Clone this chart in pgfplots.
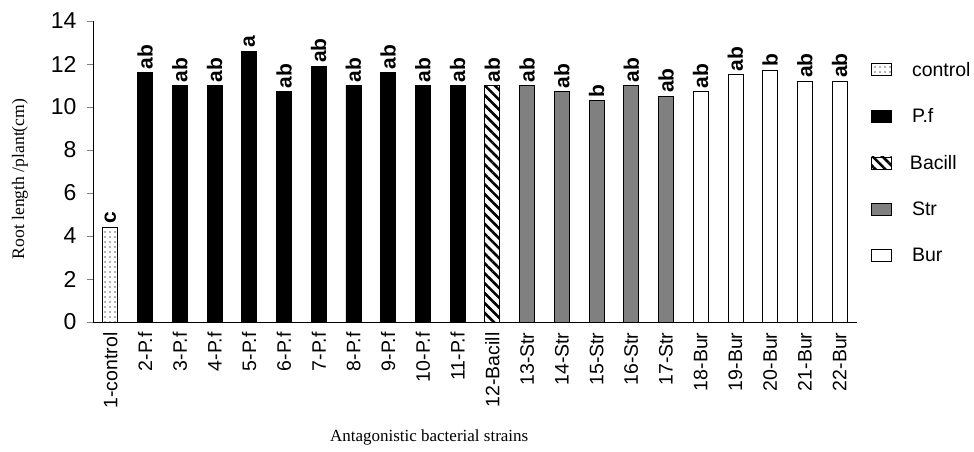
\documentclass[border=0pt]{standalone}
\usepackage{pgfplots}
\pgfplotsset{compat=1.18}
\usepackage{pgfplotstable}
\usepackage{fontspec}
\setmainfont{Liberation Serif}
\setsansfont{Liberation Sans}
\usetikzlibrary{patterns.meta}

\pgfplotstableread{
x y lab
0 4.4 c
}\control
\pgfplotstableread{
x y lab
1 11.6 ab
2 11.0 ab
3 11.0 ab
4 12.6 a
5 10.7 ab
6 11.9 ab
7 11.0 ab
8 11.6 ab
9 11.0 ab
10 11.0 ab
}\pf
\pgfplotstableread{
x y lab
11 11.0 ab
}\bacill
\pgfplotstableread{
x y lab
12 11.0 ab
13 10.7 ab
14 10.3 b
15 11.0 ab
16 10.5 ab
}\str
\pgfplotstableread{
x y lab
17 10.7 ab
18 11.5 ab
19 11.7 b
20 11.2 ab
21 11.2 ab
}\bur

\begin{document}
\begin{tikzpicture}[x=1pt,y=1pt]
\useasboundingbox (0,0) rectangle (974,452);
\begin{axis}[
  at={(93pt,130pt)}, anchor=south west,
  scale only axis, width=764pt, height=301pt,
  ybar, bar width=15pt, bar shift=0pt,
  xmin=-0.5, xmax=21.5, ymin=0, ymax=14,
  axis lines=left, axis line style={-, line width=0.9pt},
  tick align=outside,
  ytick={0,2,...,14},
  y tick label style={font=\fontsize{23}{26}\sffamily, xshift=-7pt},
  /pgf/number format/assume math mode=true,
  xtick={0,...,21},
  xticklabels={1-control,2-P.f,3-P.f,4-P.f,5-P.f,6-P.f,7-P.f,8-P.f,9-P.f,10-P.f,11-P.f,12-Bacill,13-Str,14-Str,15-Str,16-Str,17-Str,18-Bur,19-Bur,20-Bur,21-Bur,22-Bur},
  x tick label style={font=\fontsize{19.5}{22}\sffamily, rotate=90, anchor=east},
  xticklabel shift=1pt,
  x tick style={draw=none},
  extra x ticks={-0.5,0.5,...,21.5},
  extra x tick labels={},
  extra x tick style={tick style={draw=black, line width=0.8pt}, major tick length=6pt},
  y tick style={line width=0.8pt}, major tick length=6pt,
  ylabel={Root length /plant(cm)},
  every axis y label/.style={font=\fontsize{17.6}{21}\selectfont, at={(axis description cs:-0.0955,0.475)}, rotate=90, anchor=center},
  xlabel={Antagonistic bacterial strains},
  every axis x label/.style={font=\fontsize{17}{20}\selectfont, at={(axis description cs:0.44,-0.382)}, anchor=center},
  nodes near coords={\pgfplotspointmeta},
  point meta=explicit symbolic,
  every node near coord/.style={font=\fontsize{21}{24}\sffamily\bfseries, rotate=90, anchor=west, inner sep=3pt},
  legend style={draw=none, fill=none, at={(axis cs:21.9,12.2)}, anchor=north west,
    font=\fontsize{19.5}{22}\sffamily, row sep=27pt, inner sep=0pt},
  legend cell align=left,
  legend image code/.code={\draw[#1] (0pt,-6pt) rectangle (20pt,6pt);},
  every axis plot/.append style={line width=0.9pt},
]
\addplot[draw=black, fill=white, postaction={pattern={Dots[distance=5pt, radius=0.8pt]}, pattern color=black!60}] table[x=x,y=y,meta=lab] {\control};
\addlegendentry{\hspace{18pt}control}
\addplot[draw=black, fill=black] table[x=x,y=y,meta=lab] {\pf};
\addlegendentry{\hspace{18pt}P.f}
\addplot[draw=black, fill=white, postaction={pattern={Lines[angle=-45, distance=7pt, line width=2.6pt]}, pattern color=black}] table[x=x,y=y,meta=lab] {\bacill};
\addlegendentry{\hspace{16pt}Bacill}
\addplot[draw=black, fill=gray] table[x=x,y=y,meta=lab] {\str};
\addlegendentry{\hspace{18pt}Str}
\addplot[draw=black, fill=white] table[x=x,y=y,meta=lab] {\bur};
\addlegendentry{\hspace{18pt}Bur}
\end{axis}
\end{tikzpicture}
\end{document}
